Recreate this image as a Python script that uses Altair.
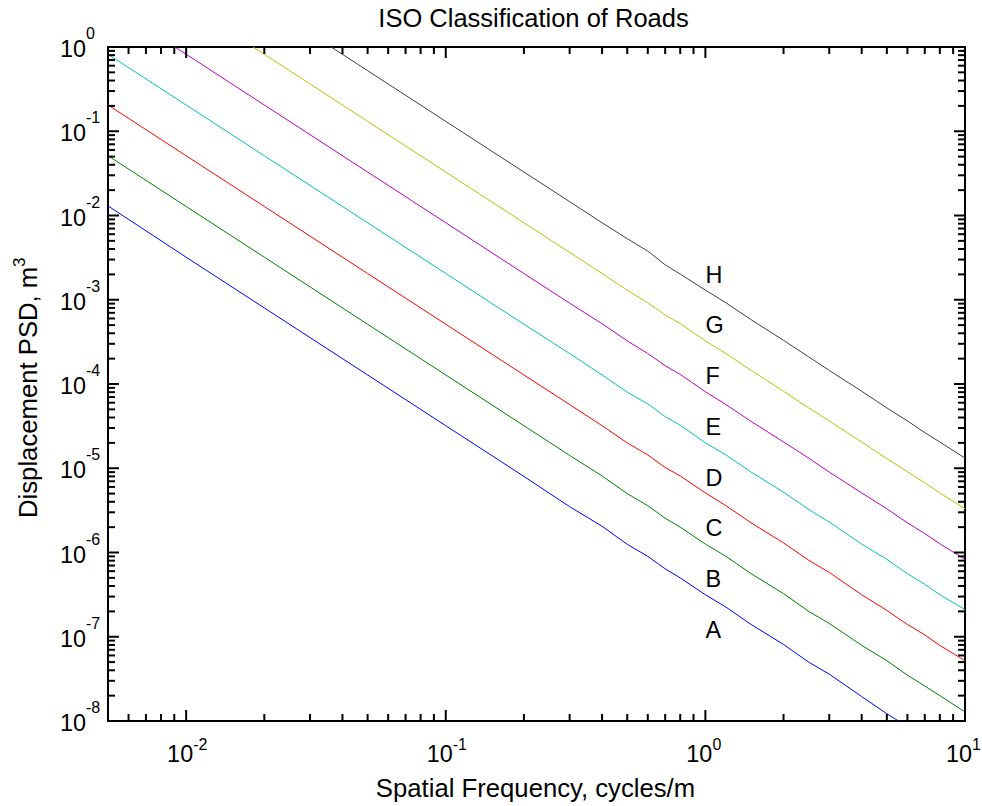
import altair as alt
import pandas as pd

FONT = "Liberation Sans"

# spatial frequency samples (cycles/m)
freq = [0.005, 0.01, 0.02, 0.05, 0.1, 0.2, 0.3, 0.4, 0.5, 0.6, 0.7, 0.8,
        1.0, 1.2, 1.5, 2.0, 2.5, 3.0, 4.0, 5.0, 6.0, 7.0, 8.0, 10.0]

# displacement PSD (m^3) of the class boundary lines
psd_blue = [1.3e-2, 3.2e-3, 8.0e-4, 1.28e-4, 3.2e-5, 8.0e-6, 3.5e-6, 2.05e-6, 1.25e-6, 9.0e-7, 6.4e-7, 5.0e-7,
            3.15e-7, 2.25e-7, 1.40e-7, 8.1e-8, 5.0e-8, 3.6e-8, 1.95e-8, 1.22e-8, 8.6e-9, 6.3e-9, 4.9e-9, 3.1e-9]
psd_green = [5.12e-2, 1.28e-2, 3.2e-3, 5.12e-4, 1.28e-4, 3.2e-5, 1.42e-5, 8.1e-6, 5.0e-6, 3.6e-6, 2.55e-6, 2.0e-6,
             1.26e-6, 9.0e-7, 5.6e-7, 3.25e-7, 2.0e-7, 1.44e-7, 7.9e-8, 5.2e-8, 3.5e-8, 2.6e-8, 2.0e-8, 1.28e-8]
psd_red = [0.205, 5.12e-2, 1.28e-2, 2.05e-3, 5.12e-4, 1.28e-4, 5.7e-5, 3.2e-5, 2.0e-5, 1.44e-5, 1.02e-5, 8.1e-6,
           5.1e-6, 3.6e-6, 2.25e-6, 1.3e-6, 8.1e-7, 5.8e-7, 3.15e-7, 2.05e-7, 1.4e-7, 1.05e-7, 7.9e-8, 5.2e-8]
psd_cyan = [0.82, 0.205, 5.12e-2, 8.2e-3, 2.05e-3, 5.12e-4, 2.3e-4, 1.28e-4, 8.0e-5, 5.8e-5, 4.1e-5, 3.25e-5,
            2.0e-5, 1.44e-5, 9.0e-6, 5.2e-6, 3.25e-6, 2.3e-6, 1.26e-6, 8.3e-7, 5.6e-7, 4.2e-7, 3.15e-7, 2.1e-7]
psd_magenta = [3.28, 0.82, 0.205, 3.28e-2, 8.2e-3, 2.05e-3, 9.1e-4, 5.2e-4, 3.25e-4, 2.3e-4, 1.65e-4, 1.3e-4,
               8.1e-5, 5.7e-5, 3.6e-5, 2.05e-5, 1.32e-5, 9.0e-6, 5.1e-6, 3.3e-6, 2.25e-6, 1.68e-6, 1.27e-6, 8.3e-7]
psd_yellow = [13.1, 3.28, 0.82, 0.131, 3.28e-2, 8.2e-3, 3.65e-3, 2.05e-3, 1.3e-3, 9.2e-4, 6.6e-4, 5.2e-4,
              3.25e-4, 2.3e-4, 1.45e-4, 8.2e-5, 5.2e-5, 3.65e-5, 2.05e-5, 1.3e-5, 9.1e-6, 6.7e-6, 5.1e-6, 3.3e-6]
psd_gray = [52.4, 13.1, 3.28, 0.524, 0.131, 3.28e-2, 1.46e-2, 8.2e-3, 5.3e-3, 3.78e-3, 2.6e-3, 2.02e-3,
            1.3e-3, 9.2e-4, 5.8e-4, 3.3e-4, 2.1e-4, 1.45e-4, 8.2e-5, 5.2e-5, 3.65e-5, 2.65e-5, 2.05e-5, 1.32e-5]

line_names = ["AB", "BC", "CD", "DE", "EF", "FG", "GH"]
line_colors = ["#0000ff", "#008000", "#ff0000", "#00bfbf", "#bf00bf", "#bfbf00", "#404040"]
all_series = [psd_blue, psd_green, psd_red, psd_cyan, psd_magenta, psd_yellow, psd_gray]

# class labels
class_letters = ["A", "B", "C", "D", "E", "F", "G", "H"]
class_freq = [1.0] * 8
class_psd = [1e-7, 4e-7, 1.6e-6, 6.4e-6, 2.56e-5, 1.024e-4, 4.096e-4, 1.6384e-3]

# tick marks and tick labels
x_major = [0.01, 0.1, 1.0, 10.0]
x_major_exp = ["-2", "-1", "0", "1"]
x_minor = [k * 10.0 ** e for e in range(-3, 1) for k in range(2, 10) if 0.005 <= k * 10.0 ** e <= 10]
y_major = [10.0 ** (-e) for e in range(0, 9)]
y_major_exp = ["0", "-1", "-2", "-3", "-4", "-5", "-6", "-7", "-8"]
y_minor = [k * 10.0 ** e for e in range(-8, 0) for k in range(2, 10)]

title_text = "ISO Classification of Roads"
xlabel_text = "Spatial Frequency, cycles/m"
ylabel_text = "Displacement PSD, m"
ylabel_exp = "3"

rows = []
for name, vals in zip(line_names, all_series):
    for f, g in zip(freq, vals):
        rows.append({"f": f, "g": g, "cls": name})
df = pd.DataFrame(rows)

W, H = 857, 674
MAJ, MIN = 11, 7
xs = alt.Scale(type="log", domain=[0.005, 10], nice=False)
ys = alt.Scale(type="log", domain=[1e-8, 1], nice=False)
X = alt.X("f:Q", scale=xs, axis=None)
Y = alt.Y("g:Q", scale=ys, axis=None)

lines = alt.Chart(df).mark_line(strokeWidth=1, clip=True).encode(
    x=X, y=Y,
    color=alt.Color("cls:N", scale=alt.Scale(domain=line_names, range=line_colors), legend=None),
)

xmaj = pd.DataFrame({"f": x_major, "e": x_major_exp, "b": ["10"] * len(x_major)})
xmin = pd.DataFrame({"f": x_minor})
ymaj = pd.DataFrame({"g": y_major, "e": y_major_exp, "b": ["10"] * len(y_major)})
ymin = pd.DataFrame({"g": y_minor})

def xticks(data, length):
    base = alt.Chart(data).mark_rule(color="black", strokeWidth=2)
    return [
        base.encode(x=X, y=alt.value(H), y2=alt.value(H - length)),
        base.encode(x=X, y=alt.value(0), y2=alt.value(length)),
    ]

def yticks(data, length):
    base = alt.Chart(data).mark_rule(color="black", strokeWidth=2)
    return [
        base.encode(y=Y, x=alt.value(0), x2=alt.value(length)),
        base.encode(y=Y, x=alt.value(W), x2=alt.value(W - length)),
    ]

ticks = xticks(xmaj, MAJ) + xticks(xmin, MIN) + yticks(ymaj, MAJ) + yticks(ymin, MIN)

xlab_base = alt.Chart(xmaj).mark_text(align="right", baseline="alphabetic", dx=7, font=FONT,
                                      fontSize=23.4, color="black").encode(x=X, y=alt.value(H + 41), text="b:N")
xlab_exp = alt.Chart(xmaj).mark_text(align="left", baseline="alphabetic", dx=7, font=FONT,
                                     fontSize=16, color="black").encode(x=X, y=alt.value(H + 29), text="e:N")
ylab_base = alt.Chart(ymaj).mark_text(align="left", baseline="alphabetic", dy=10, font=FONT,
                                      fontSize=23.4, color="black").encode(y=Y, x=alt.value(-48), text="b:N")
ylab_exp = alt.Chart(ymaj).mark_text(align="left", baseline="alphabetic", dy=-8, font=FONT,
                                     fontSize=16, color="black").encode(y=Y, x=alt.value(-22), text="e:N")

cls_df = pd.DataFrame({"f": class_freq, "g": class_psd, "t": class_letters})
cls_text = alt.Chart(cls_df).mark_text(align="left", baseline="alphabetic", dy=1, font=FONT,
                                       fontSize=23.4, color="black").encode(x=X, y=Y, text="t:N")

one = pd.DataFrame({"t": [title_text], "xl": [xlabel_text], "yl": [ylabel_text], "ye": [ylabel_exp]})
title = alt.Chart(one).mark_text(align="center", baseline="alphabetic", font=FONT, fontSize=25.5,
                                 color="black").encode(x=alt.value(W / 2 - 3), y=alt.value(-20), text="t:N")
xlabel = alt.Chart(one).mark_text(align="center", baseline="alphabetic", font=FONT, fontSize=25.7,
                                  color="black").encode(x=alt.value(W / 2 - 1), y=alt.value(750), text="xl:N")
ylabel = alt.Chart(one).mark_text(align="left", baseline="alphabetic", angle=270, font=FONT, fontSize=25.7,
                                  color="black").encode(x=alt.value(-71), y=alt.value(471), text="yl:N")
ylabel_e = alt.Chart(one).mark_text(align="left", baseline="alphabetic", angle=270, font=FONT, fontSize=17,
                                    color="black").encode(x=alt.value(-83), y=alt.value(220), text="ye:N")

chart = alt.layer(
    lines, *ticks, xlab_base, xlab_exp, ylab_base, ylab_exp, cls_text, title, xlabel, ylabel, ylabel_e
).properties(
    width=W, height=H,
    autosize=alt.AutoSizeParams(type="none"),
    padding={"left": 108, "top": 47, "right": 17, "bottom": 85},
    background="white",
).configure_view(stroke="black", strokeWidth=2)

chart.save("out.html", embed_options={"renderer": "svg", "actions": False})
